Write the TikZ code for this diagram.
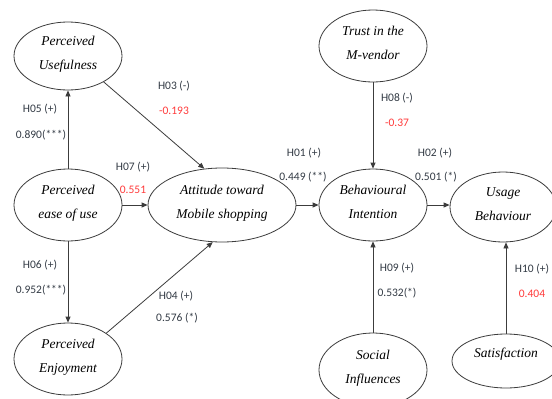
\documentclass[tikz,border=0pt]{standalone}
\usepackage{fontspec}
\setmainfont{Liberation Serif}
\newfontfamily\labfont{Carlito}
\usetikzlibrary{shapes.geometric,arrows.meta}
\definecolor{linec}{HTML}{3C3C3C}
\definecolor{labc}{HTML}{333B45}
\definecolor{redc}{HTML}{FF3B3B}
\begin{document}
\begin{tikzpicture}[x=1pt,y=-1pt,
  construct/.style={ellipse, draw=linec, line width=0.8pt, inner sep=0pt,
    font=\fontsize{13.5}{24}\selectfont\itshape, align=center, text depth=6pt},
  conn/.style={draw=linec, line width=0.8pt, -{Triangle[length=6pt,width=5pt]}},
  lab/.style={font=\labfont\fontsize{11.5}{14}\selectfont, text=labc, inner sep=0pt},
  val/.style={lab, text=redc}]
\fill[white] (0,0) rectangle (552,399);
\useasboundingbox (0,0) rectangle (552,399);

\node[construct, minimum width=108pt, minimum height=68pt] (pu) at (68,56) {Perceived\\Usefulness};
\node[construct, minimum width=108pt, minimum height=72pt] (peou) at (68,205) {Perceived\\ease of use};
\node[construct, minimum width=108pt, minimum height=72pt] (pe) at (68,359) {Perceived\\Enjoyment};
\node[construct, minimum width=148pt, minimum height=74pt] (att) at (222,205) {Attitude toward\\Mobile shopping};
\node[construct, minimum width=108pt, minimum height=72pt] (bi) at (373,205) {Behavioural\\Intention};
\node[construct, minimum width=106pt, minimum height=70pt] (ub) at (503,207) {Usage\\Behaviour};
\node[construct, minimum width=108pt, minimum height=72pt] (trust) at (373,46) {Trust in the\\M-vendor};
\node[construct, minimum width=108pt, minimum height=74pt] (si) at (373,370) {Social\\Influences};
\node[construct, minimum width=108pt, minimum height=54pt, text height=9.5pt, text depth=16pt] (sat) at (506,361) {Satisfaction};

\draw[conn] (peou.north) -- (pu.south);
\draw[conn] (pu.-36) -- (att.116);
\draw[conn] (peou.east) -- (att.west);
\draw[conn] (peou.south) -- (pe.north);
\draw[conn] (pe.34) -- (att.-104);
\draw[conn] (att.east) -- (bi.west);
\draw[conn] (bi.east) -- (bi.east -| ub.west);
\draw[conn] (trust.south) -- (bi.north);
\draw[conn] (si.north) -- (bi.south);
\draw[conn] (sat.north) -- (sat.north |- ub.south);

\node[lab] (h05) at (40,109) {H05 (+)};
\node[lab] (v05) at (41,135) {0.890(***)};
\node[lab] (h03) at (174,86) {H03 (-)};
\node[val] (v03) at (174,111) {-0.193};
\node[lab] (h07) at (133,167) {H07 (+)};
\node[val] (v07) at (133,190) {0.551};
\node[lab] (h06) at (40,265) {H06 (+)};
\node[lab] (v06) at (41,290) {0.952(***)};
\node[lab] (h04) at (176,296) {H04 (+)};
\node[lab] (v04) at (177,318) {0.576 (*)};
\node[lab] (h01) at (304,153) {H01 (+)};
\node[lab] (v01) at (303,177) {0.449 (**)};
\node[lab] (h08) at (397,98) {H08 (-)};
\node[val] (v08) at (397,123) {-0.37};
\node[lab] (h02) at (435,153) {H02 (+)};
\node[lab] (v02) at (436,177) {0.501 (*)};
\node[lab] (h09) at (397,268) {H09 (+)};
\node[lab] (v09) at (397,293) {0.532(*)};
\node[lab] (h10) at (532,269) {H10 (+)};
\node[val] (v10) at (532,294) {0.404};
\end{tikzpicture}
\end{document}
